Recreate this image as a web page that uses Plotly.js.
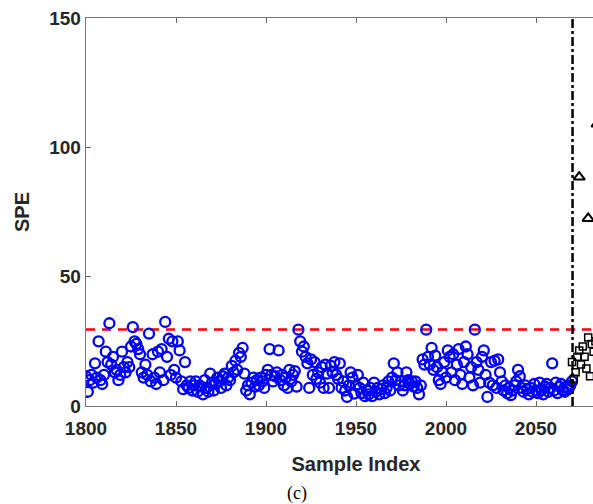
<!DOCTYPE html>
<html>
<head>
<meta charset="utf-8">
<script src="https://cdn.plot.ly/plotly-3.0.1.min.js"></script>
<style>
html,body{margin:0;padding:0;overflow:hidden;background:#fff;width:593px;height:504px;}
#chart{width:640px;height:504px;}
</style>
</head>
<body>
<div id="chart"></div>
<script>
// Normal samples (blue circles), index 1800..2070
const normalStart = 1800;
const normalSPE = [
11.5,5.5,10,12,9,16.5,11,25,10,8.5,
12,21,17,32,16,19,13,14,10,12,
21,15,13,17,15,23,30.5,25,24,22,
20,13,11,16,12,28,9.5,20,11,8.5,
21,13,22,10,32.5,19,26,12,25,14,
11,25,21.5,9.5,6.5,17,8,7,9.5,6,
8,9.5,5.5,8,7.5,4.5,10,7,5.5,12.5,
9,6,8.5,11,9.5,7,11.5,12.5,8,11,
10,15.5,13,17.5,14,20.5,19,22.5,12.5,6,
8,4.5,9,11,7.5,10,8,11,9.5,7,
12,14,22,12,9.5,11.5,13,21.5,10,12,
8,11,7,14,9.5,12,13.5,7.5,29.5,25,
21,23,19,16.5,7,18,12,17,10.5,13,
9,15,7,16,12.5,7,15.5,13,17,12,
10.5,16.5,7,9.5,6,3.5,8,13,11,4.8,
8,12,7,5,9,3.8,6,4.5,7,3.8,
9,5.5,7,4.5,6.5,8,5,7,9.5,6,
11,16.5,10,13,8,9.5,6,8,13,10,
8.5,9.5,7.5,9.5,7,4.5,8,18,16,29.5,
19,16,22.5,14,19.5,15,10,8.5,13,17,
11,21.5,19,13,20,10,16,22,12,8.5,
17,23,20,11,15,8,29.5,17,14,9,
19,21.5,12,3.5,9,17,8,17.5,7,18,
13,9.5,6,8,5,7,4.2,6,8,9.5,
14,11.5,7,5.5,8,6.5,4.5,7,5.5,8.5,
6,5,9,6,4.5,7.5,8.5,5.5,7,16.5,
6,9,5,7.5,8.5,6,5.5,7.5,6.5,8,9.5
];
// Fault samples (black squares)
const faultX = [2070,2071,2072,2073,2074,2075,2076,2077,2078,2079,2080,2081,2082,2083,2084,2085];
const faultSPE = [17,10.5,13,19,21.5,16,23,19,14.5,26.5,11.5,24,21,25,18,22];
// Outlier fault samples (black triangles)
const outlierX = [2074,2079,2084];
const outlierSPE = [88.5,72.5,109];
// Control limit and fault onset
const controlLimit = 29.6;
const faultOnset = 2070.3;
const xRange = [1800,2100];
const yRange = [0,150];
const xTicks = [1800,1850,1900,1950,2000,2050,2100];
const yTicks = [0,50,100,150];

const normalX = normalSPE.map((_,i)=>normalStart+i);

const traces = [
  {x:[xRange[0],xRange[1]], y:[controlLimit,controlLimit], mode:'lines',
   line:{color:'#ff0000',width:2.5,dash:'9px,7px'}, hoverinfo:'skip'},
  {x:normalX, y:normalSPE, mode:'markers', type:'scatter',
   marker:{symbol:'circle-open',size:10,color:'#0000ff',line:{width:2.3,color:'#0000ff'}}},
  {x:faultX, y:faultSPE, mode:'markers', type:'scatter',
   marker:{symbol:'square-open',size:7,color:'#000',line:{width:1.5,color:'#000'}}},
  {x:outlierX, y:outlierSPE, mode:'markers', type:'scatter',
   marker:{symbol:'triangle-up-open',size:10,color:'#000',line:{width:2,color:'#000'}}},
  {x:[faultOnset,faultOnset], y:[yRange[0],yRange[1]], mode:'lines',
   line:{color:'#000',width:2.5,dash:'dashdot'}, hoverinfo:'skip'}
];

const tickFont = {family:'Liberation Sans, Arial, sans-serif', size:19, color:'#262626', weight:'bold'};
const layout = {
  width:640, height:504,
  margin:{l:86,r:14,t:18,b:98},
  paper_bgcolor:'#fff', plot_bgcolor:'#fff',
  showlegend:false,
  xaxis:{range:xRange, tickvals:xTicks, ticktext:xTicks.map(String),
    ticks:'inside', ticklen:5, tickwidth:1, tickcolor:'#666',
    showline:true, linecolor:'#777', linewidth:1.3, mirror:'ticks',
    showgrid:false, zeroline:false, tickfont:tickFont, ticklabelstandoff:5,
    title:{text:'<b>Sample Index</b>', font:{family:'Liberation Sans, Arial, sans-serif', size:20, color:'#262626'}, standoff:19}},
  yaxis:{range:yRange, tickvals:yTicks, ticktext:yTicks.map(String),
    ticks:'inside', ticklen:5, tickwidth:1, tickcolor:'#666',
    showline:true, linecolor:'#777', linewidth:1.3, mirror:false,
    showgrid:false, zeroline:false, tickfont:tickFont,
    title:{text:'<b>SPE</b>', font:{family:'Liberation Sans, Arial, sans-serif', size:20, color:'#262626'}, standoff:14}},
  annotations:[{text:'(c)', xref:'paper', yref:'paper', x:(297-86)/540, y:-(493-406)/388,
    xanchor:'center', yanchor:'middle', showarrow:false,
    font:{family:'Liberation Serif, Times New Roman, serif', size:18, color:'#000'}}]
};
Plotly.newPlot('chart', traces, layout, {displayModeBar:false, staticPlot:true});
</script>
</body>
</html>
